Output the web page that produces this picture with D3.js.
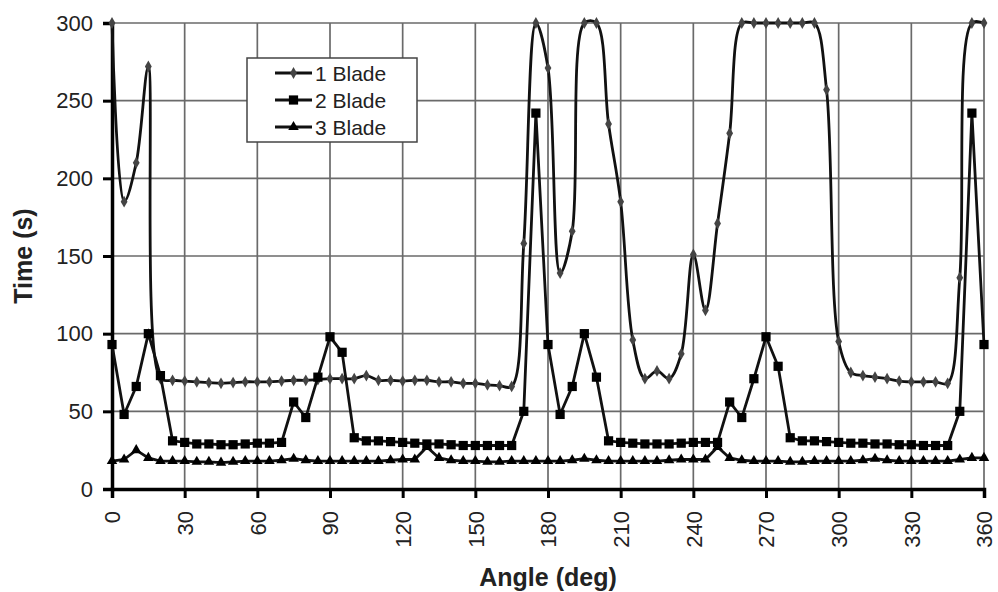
<!DOCTYPE html>
<html>
<head>
<meta charset="utf-8">
<script src="https://cdn.jsdelivr.net/npm/d3@7"></script>
<style>
  body { margin: 0; background: #fff; }
  text { font-family: "Liberation Sans", Arial, sans-serif; fill: #222; }
</style>
</head>
<body>
<svg id="chart" width="998" height="592"></svg>
<script>
// angle categories (deg)
const angles = [0,5,10,15,20,25,30,35,40,45,50,55,60,65,70,75,80,85,90,95,100,105,110,115,120,
  125,130,135,140,145,150,155,160,165,170,175,180,185,190,195,200,205,210,215,220,225,230,235,240,
  245,250,255,260,265,270,275,280,285,290,295,300,305,310,315,320,325,330,335,340,345,350,355,360];

// time (s) for each blade count
const blade1 = [300,185,210,272,71,70,69.5,69,68.5,68,68.5,69,69,69,69.5,70,70,70.5,71,71,71,73,70,70,69.5,
  70,70,69,69,68,68,67,66.5,66,158,300,271,139,166,300,300,235,185,96,71,76,71,87,151,
  115,171,229,300,300,300,300,300,300,300,257,95,75,73,72,71,69.5,69,69,69,68,136,300,300];
const blade2 = [93,48,66,100,73,31,30,29,29,28.5,28.5,29,29.5,29.5,30,56,46,72,98,88,33,31,31,30.5,30,
  29.5,29,29,28.5,28,28,28,28,28,50,242,93,48,66,100,72,31,30,29.5,29,29,29,29.5,30,
  30,30,56,46,71,98,79,33,31,31,30.5,30,29.5,29.5,29,29,28.5,28.5,28,28,28,50,242,93];
const blade3 = [18,19,25,20,18,18,18,17.5,17.5,17,17.5,18,18,18,18.5,19.5,18.5,18,18,18,18,18,18,18.5,19,
  19,27,20,18.5,18,18,17.5,17.5,18,18,18,18,18,18.5,19.5,18.5,18,18,18,18,18,18.5,19,19,
  19,27,20,18.5,18,18,18,17.5,17.5,18,18,18,18,18.5,19.5,18.5,18,18,18,18,18,19,20,20];

const seriesNames = ["1 Blade", "2 Blade", "3 Blade"];
const xTicks = [0,30,60,90,120,150,180,210,240,270,300,330,360];
const yTicks = [0,50,100,150,200,250,300];

const svg = d3.select("#chart");
const m = {left: 112, right: 14, top: 23, bottom: 103};
const W = 998, H = 592;

const x = d3.scaleLinear().domain([0, 360]).range([m.left, W - m.right]);
const y = d3.scaleLinear().domain([0, 300]).range([H - m.bottom, m.top]);

// grid
svg.append("g").selectAll("line").data(yTicks).enter().append("line")
  .attr("x1", x(0)).attr("x2", x(360))
  .attr("y1", d => y(d)).attr("y2", d => y(d))
  .attr("stroke", "#6a6a6a").attr("stroke-width", 1.7);
svg.append("g").selectAll("line").data(xTicks).enter().append("line")
  .attr("x1", d => x(d)).attr("x2", d => x(d))
  .attr("y1", y(0)).attr("y2", y(300))
  .attr("stroke", "#6a6a6a").attr("stroke-width", 1.7);

// axes
const yAxis = svg.append("g").attr("transform", "translate(" + x(0) + ",0)")
  .call(d3.axisLeft(y).tickValues(yTicks).tickSize(9).tickPadding(10));
const xAxis = svg.append("g").attr("transform", "translate(0," + y(0) + ")")
  .call(d3.axisBottom(x).tickValues(xTicks).tickSize(9));
[yAxis, xAxis].forEach(a => {
  a.select(".domain").attr("stroke", "#000").attr("stroke-width", 3.5);
  a.selectAll(".tick line").attr("stroke", "#000").attr("stroke-width", 3);
  a.selectAll("text").style("font-size", "22px").attr("fill", "#222");
});
xAxis.selectAll("text")
  .attr("transform", "rotate(-90)")
  .attr("text-anchor", "end")
  .attr("x", -22).attr("y", 0).attr("dy", "0.36em");

// axis titles
svg.append("text")
  .attr("transform", "translate(32," + ((y(0) + y(300)) / 2) + ") rotate(-90)")
  .attr("text-anchor", "middle")
  .style("font-size", "25px").style("font-weight", "bold")
  .text("Time (s)");
svg.append("text")
  .attr("x", (x(0) + x(360)) / 2).attr("y", 586)
  .attr("text-anchor", "middle")
  .style("font-size", "25px").style("font-weight", "bold")
  .text("Angle (deg)");

// series
const series = [
  {name: seriesNames[0], values: blade1, sym: d3.symbolDiamond, size: 40, fill: "#444", curve: d3.curveCatmullRom.alpha(0.5)},
  {name: seriesNames[1], values: blade2, sym: d3.symbolSquare, size: 85, fill: "#000", curve: d3.curveLinear},
  {name: seriesNames[2], values: blade3, sym: d3.symbolTriangle, size: 48, fill: "#000", curve: d3.curveLinear}
];

series.forEach(s => {
  const pts = angles.map((a, i) => [a, s.values[i]]);
  const line = d3.line().x(d => x(d[0])).y(d => y(d[1])).curve(s.curve);
  svg.append("path").datum(pts)
    .attr("d", line).attr("fill", "none")
    .attr("stroke", "#111").attr("stroke-width", 2.8);
  svg.append("g").selectAll("path").data(pts).enter().append("path")
    .attr("transform", d => "translate(" + x(d[0]) + "," + y(d[1]) + ")")
    .attr("d", d3.symbol().type(s.sym).size(s.size))
    .attr("fill", s.fill);
});

// legend
const lg = svg.append("g").attr("transform", "translate(247,58)");
lg.append("rect").attr("width", 170).attr("height", 84)
  .attr("fill", "#fff").attr("stroke", "#444").attr("stroke-width", 1.5);
series.forEach((s, i) => {
  const cy = 15 + i * 27;
  lg.append("line").attr("x1", 28).attr("x2", 65).attr("y1", cy).attr("y2", cy)
    .attr("stroke", "#111").attr("stroke-width", 2.8);
  lg.append("path").attr("transform", "translate(46.5," + cy + ")")
    .attr("d", d3.symbol().type(s.sym).size(s.size)).attr("fill", s.fill);
  lg.append("text").attr("x", 68).attr("y", cy).attr("dy", "0.36em")
    .style("font-size", "21px").text(s.name);
});
</script>
</body>
</html>
